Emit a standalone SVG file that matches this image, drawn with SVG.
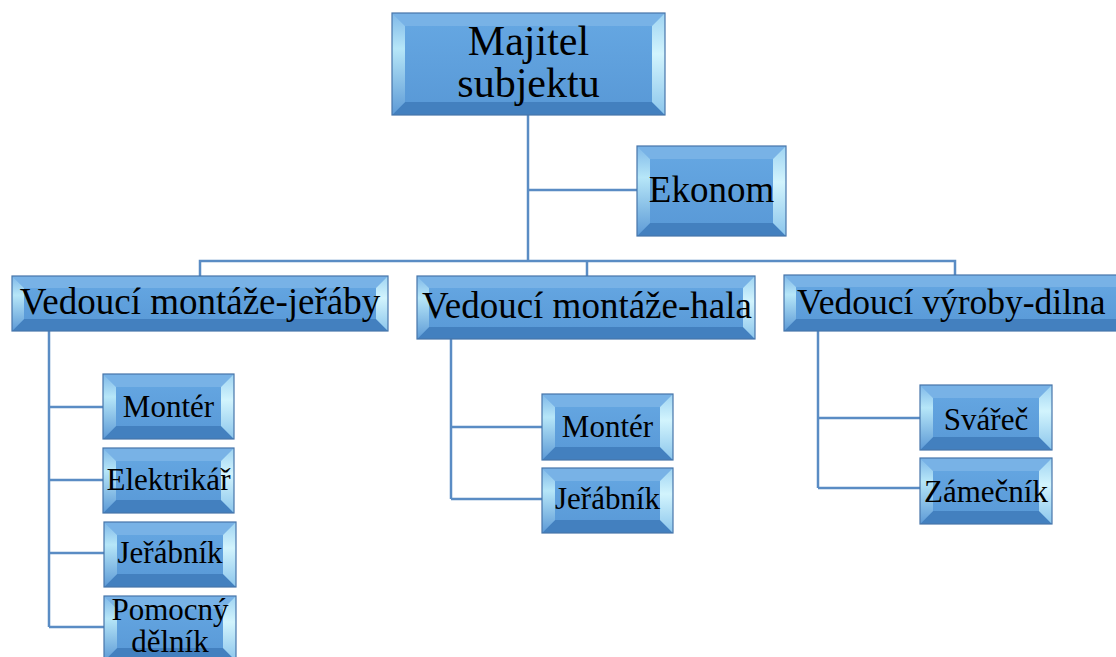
<svg xmlns="http://www.w3.org/2000/svg" width="1116" height="657" viewBox="0 0 1116 657">
<defs>
<linearGradient id="gl" x1="0" y1="0" x2="0" y2="1"><stop offset="0" stop-color="#7fb8e8"/><stop offset="0.35" stop-color="#b6e6f8"/><stop offset="1" stop-color="#5d9ad6"/></linearGradient>
<linearGradient id="gr" x1="0" y1="0" x2="0" y2="1"><stop offset="0" stop-color="#9fd4f2"/><stop offset="0.4" stop-color="#d2f4fd"/><stop offset="1" stop-color="#8cc6ec"/></linearGradient>
<linearGradient id="gf" x1="0" y1="0" x2="0" y2="1"><stop offset="0" stop-color="#66a8e3"/><stop offset="1" stop-color="#5898d6"/></linearGradient>
</defs>
<style>
.face{fill:url(#gf);}
.bt{fill:#78b2e6;}
.bb{fill:#4380bf;}
.bl{fill:url(#gl);}
.br{fill:url(#gr);}
.bd{fill:none;stroke:#4675aa;stroke-width:1.2;}
.c{fill:none;stroke:#5a8cc4;stroke-width:2.5;}
text{font-family:"Liberation Serif","Times New Roman",serif;fill:#000;text-anchor:middle;}
.t41{font-size:42px;}
.t37{font-size:37px;}
.t36{font-size:37px;}
.t31{font-size:31px;}
</style>
<g id="connectors">
<path class="c" d="M528 115V262"/>
<path class="c" d="M528 190H637"/>
<path class="c" d="M200 276V261H955V275"/>
<path class="c" d="M587 261V276"/>
<path class="c" d="M49 331V627"/>
<path class="c" d="M49 407H103M49 480H103M49 553H104M49 627H104"/>
<path class="c" d="M451 339V499"/>
<path class="c" d="M451 427H542M451 499H542"/>
<path class="c" d="M818 331V488"/>
<path class="c" d="M818 418H920M818 488H920"/>
</g>
<g id="n-majitel">
<rect class="face" x="392" y="13" width="273" height="102"/>
<path class="bt" d="M392 13H665L652 26H405Z"/>
<path class="bb" d="M392 115H665L652 102H405Z"/>
<path class="bl" d="M392 13V115L405 102V26Z"/>
<path class="br" d="M665 13V115L652 102V26Z"/>
<rect class="bd" x="392" y="13" width="273" height="102"/>
<text class="t41" x="528.5" y="55">Majitel</text>
<text class="t41" x="528.5" y="97">subjektu</text>
</g>
<g id="n-ekonom">
<rect class="face" x="637" y="146" width="149" height="90"/>
<path class="bt" d="M637 146H786L773 159H650Z"/>
<path class="bb" d="M637 236H786L773 223H650Z"/>
<path class="bl" d="M637 146V236L650 223V159Z"/>
<path class="br" d="M786 146V236L773 223V159Z"/>
<rect class="bd" x="637" y="146" width="149" height="90"/>
<text class="t37" x="711.5" y="202">Ekonom</text>
</g>
<g id="n-vm-jeraby">
<rect class="face" x="12" y="276" width="376" height="55"/>
<path class="bt" d="M12 276H388L376 288H24Z"/>
<path class="bb" d="M12 331H388L376 319H24Z"/>
<path class="bl" d="M12 276V331L24 319V288Z"/>
<path class="br" d="M388 276V331L376 319V288Z"/>
<rect class="bd" x="12" y="276" width="376" height="55"/>
<text class="t36" x="200" y="314">Vedoucí montáže-jeřáby</text>
</g>
<g id="n-vm-hala">
<rect class="face" x="417" y="276" width="338" height="63"/>
<path class="bt" d="M417 276H755L743 288H429Z"/>
<path class="bb" d="M417 339H755L743 327H429Z"/>
<path class="bl" d="M417 276V339L429 327V288Z"/>
<path class="br" d="M755 276V339L743 327V288Z"/>
<rect class="bd" x="417" y="276" width="338" height="63"/>
<text class="t36" x="587" y="318">Vedoucí montáže-hala</text>
</g>
<g id="n-vv-dilna">
<rect class="face" x="784" y="275" width="346" height="56"/>
<path class="bt" d="M784 275H1130L1118 287H796Z"/>
<path class="bb" d="M784 331H1130L1118 319H796Z"/>
<path class="bl" d="M784 275V331L796 319V287Z"/>
<path class="br" d="M1130 275V331L1118 319V287Z"/>
<rect class="bd" x="784" y="275" width="346" height="56"/>
<text x="797" y="314" style="text-anchor:start;font-size:35.5px">Vedoucí výroby-dilna</text>
</g>
<g id="n-monter-1">
<rect class="face" x="103" y="374" width="131" height="65"/>
<path class="bt" d="M103 374H234L221 387H116Z"/>
<path class="bb" d="M103 439H234L221 426H116Z"/>
<path class="bl" d="M103 374V439L116 426V387Z"/>
<path class="br" d="M234 374V439L221 426V387Z"/>
<rect class="bd" x="103" y="374" width="131" height="65"/>
<text class="t31" x="168.5" y="417">Montér</text>
</g>
<g id="n-elektrikar">
<rect class="face" x="103" y="448" width="131" height="65"/>
<path class="bt" d="M103 448H234L221 461H116Z"/>
<path class="bb" d="M103 513H234L221 500H116Z"/>
<path class="bl" d="M103 448V513L116 500V461Z"/>
<path class="br" d="M234 448V513L221 500V461Z"/>
<rect class="bd" x="103" y="448" width="131" height="65"/>
<text class="t31" x="168.5" y="490">Elektrikář</text>
</g>
<g id="n-jerabnik-1">
<rect class="face" x="104" y="522" width="132" height="65"/>
<path class="bt" d="M104 522H236L223 535H117Z"/>
<path class="bb" d="M104 587H236L223 574H117Z"/>
<path class="bl" d="M104 522V587L117 574V535Z"/>
<path class="br" d="M236 522V587L223 574V535Z"/>
<rect class="bd" x="104" y="522" width="132" height="65"/>
<text class="t31" x="170" y="563">Jeřábník</text>
</g>
<g id="n-pomocny">
<rect class="face" x="104" y="596" width="132" height="65"/>
<path class="bt" d="M104 596H236L223 609H117Z"/>
<path class="bb" d="M104 661H236L223 648H117Z"/>
<path class="bl" d="M104 596V661L117 648V609Z"/>
<path class="br" d="M236 596V661L223 648V609Z"/>
<rect class="bd" x="104" y="596" width="132" height="65"/>
<text class="t31" x="170" y="620">Pomocný</text>
<text class="t31" x="170" y="652">dělník</text>
</g>
<g id="n-monter-2">
<rect class="face" x="542" y="394" width="131" height="66"/>
<path class="bt" d="M542 394H673L660 407H555Z"/>
<path class="bb" d="M542 460H673L660 447H555Z"/>
<path class="bl" d="M542 394V460L555 447V407Z"/>
<path class="br" d="M673 394V460L660 447V407Z"/>
<rect class="bd" x="542" y="394" width="131" height="66"/>
<text class="t31" x="607.5" y="437">Montér</text>
</g>
<g id="n-jerabnik-2">
<rect class="face" x="542" y="468" width="131" height="65"/>
<path class="bt" d="M542 468H673L660 481H555Z"/>
<path class="bb" d="M542 533H673L660 520H555Z"/>
<path class="bl" d="M542 468V533L555 520V481Z"/>
<path class="br" d="M673 468V533L660 520V481Z"/>
<rect class="bd" x="542" y="468" width="131" height="65"/>
<text class="t31" x="607.5" y="509">Jeřábník</text>
</g>
<g id="n-svarec">
<rect class="face" x="920" y="385" width="132" height="65"/>
<path class="bt" d="M920 385H1052L1039 398H933Z"/>
<path class="bb" d="M920 450H1052L1039 437H933Z"/>
<path class="bl" d="M920 385V450L933 437V398Z"/>
<path class="br" d="M1052 385V450L1039 437V398Z"/>
<rect class="bd" x="920" y="385" width="132" height="65"/>
<text class="t31" x="986" y="430">Svářeč</text>
</g>
<g id="n-zamecnik">
<rect class="face" x="920" y="458" width="132" height="66"/>
<path class="bt" d="M920 458H1052L1039 471H933Z"/>
<path class="bb" d="M920 524H1052L1039 511H933Z"/>
<path class="bl" d="M920 458V524L933 511V471Z"/>
<path class="br" d="M1052 458V524L1039 511V471Z"/>
<rect class="bd" x="920" y="458" width="132" height="66"/>
<text class="t31" x="986" y="502">Zámečník</text>
</g>
</svg>
